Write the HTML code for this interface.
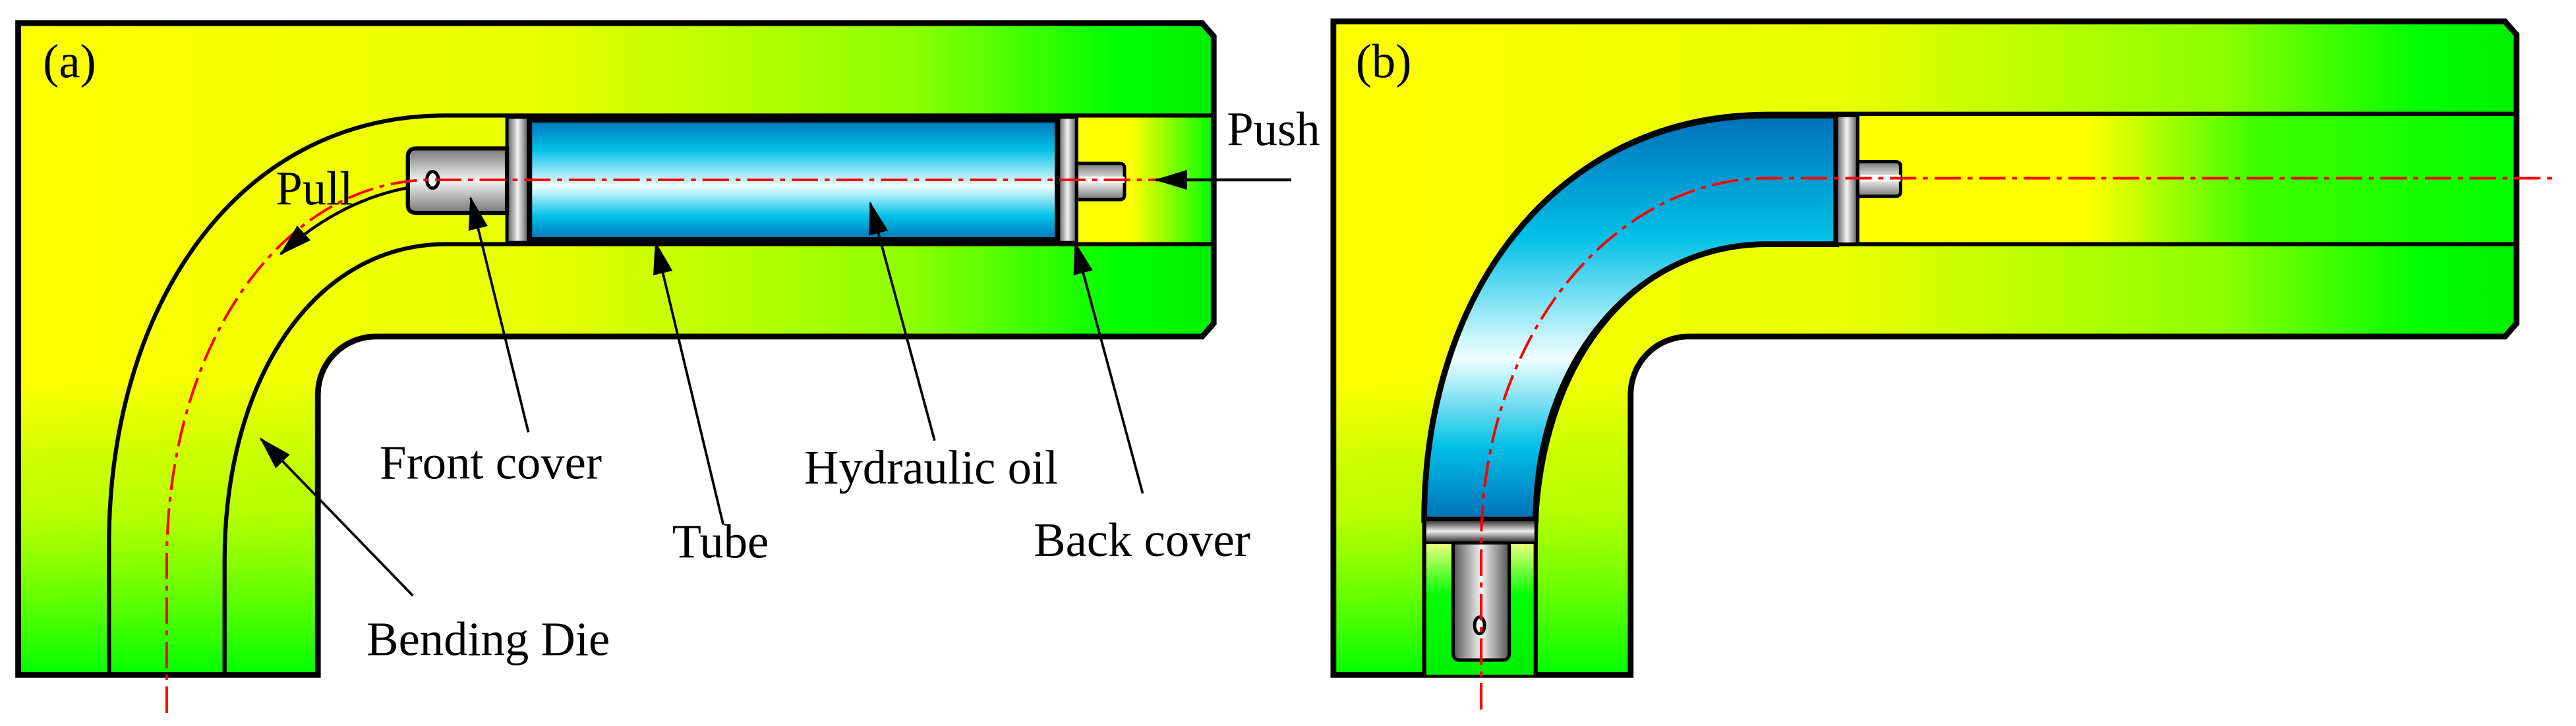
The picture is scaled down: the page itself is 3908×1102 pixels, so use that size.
<!DOCTYPE html>
<html><head><meta charset="utf-8"><style>
html,body{margin:0;padding:0;background:#fff;}
svg{display:block;}
text{font-family:"Liberation Serif",serif;fill:#000;}
</style></head><body>
<svg width="3908" height="1102" viewBox="0 0 1560 440" preserveAspectRatio="none" xmlns="http://www.w3.org/2000/svg">
<defs>
<linearGradient id="hA" x1="0" y1="0" x2="1" y2="0">
<stop offset="0" stop-color="#ffff00"/><stop offset="0.45" stop-color="#e6ff00"/><stop offset="0.75" stop-color="#8cff00"/><stop offset="0.92" stop-color="#00ff00"/><stop offset="1" stop-color="#00f000"/>
</linearGradient>
<linearGradient id="vLeg" x1="0" y1="0" x2="0" y2="1">
<stop offset="0" stop-color="#00ff00" stop-opacity="0"/><stop offset="0.45" stop-color="#40ff00" stop-opacity="0.35"/><stop offset="1" stop-color="#00ff00" stop-opacity="1"/>
</linearGradient>
<linearGradient id="chA" x1="0" y1="0" x2="1" y2="0">
<stop offset="0" stop-color="#ffff00"/><stop offset="0.4" stop-color="#ffff00"/><stop offset="1" stop-color="#00ff00"/>
</linearGradient>
<linearGradient id="chB" x1="0" y1="0" x2="1" y2="0">
<stop offset="0" stop-color="#ffff00"/><stop offset="0.35" stop-color="#ffff00"/><stop offset="0.6" stop-color="#40ff00"/><stop offset="1" stop-color="#00ff00"/>
</linearGradient>
<linearGradient id="blue" x1="0" y1="0" x2="0" y2="1">
<stop offset="0" stop-color="#0070b8"/><stop offset="0.25" stop-color="#00c0e6"/><stop offset="0.55" stop-color="#f0ffff"/><stop offset="0.8" stop-color="#00c0e6"/><stop offset="1" stop-color="#0070b8"/>
</linearGradient>
<linearGradient id="blueB" x1="0" y1="70" x2="0" y2="315" gradientUnits="userSpaceOnUse">
<stop offset="0" stop-color="#0070b8"/><stop offset="0.3" stop-color="#00c0e6"/><stop offset="0.6" stop-color="#f0ffff"/><stop offset="0.82" stop-color="#00c0e6"/><stop offset="1" stop-color="#0070b8"/>
</linearGradient>
<linearGradient id="grayV" x1="0" y1="0" x2="0" y2="1">
<stop offset="0" stop-color="#777"/><stop offset="0.5" stop-color="#f4f4f4"/><stop offset="1" stop-color="#777"/>
</linearGradient>
<linearGradient id="grayH" x1="0" y1="0" x2="1" y2="0">
<stop offset="0" stop-color="#555"/><stop offset="0.5" stop-color="#f4f4f4"/><stop offset="1" stop-color="#555"/>
</linearGradient>
<linearGradient id="grayF" x1="0" y1="0" x2="0" y2="1">
<stop offset="0" stop-color="#222"/><stop offset="0.5" stop-color="#eee"/><stop offset="1" stop-color="#222"/>
</linearGradient>
<linearGradient id="botB" x1="0" y1="0" x2="0" y2="1">
<stop offset="0" stop-color="#eeff80"/><stop offset="0.4" stop-color="#00ff00"/><stop offset="1" stop-color="#00ee00"/>
</linearGradient>
<marker id="ah" markerWidth="20" markerHeight="12" refX="19" refY="6" orient="auto" markerUnits="userSpaceOnUse">
<path d="M0,0 L20,6 L0,12 Z" fill="#000"/>
</marker>
</defs>

<!-- ============ Panel (a) ============ -->
<path d="M11,14 L728,14 L735,22 L735,196 L728,204 L227,204 A35,35 0 0 0 192.5,239 L192.5,409 L11,409 Z" fill="url(#hA)"/>
<rect x="11" y="230" width="182" height="179" fill="url(#vLeg)"/>
<rect x="652" y="71" width="83" height="76" fill="url(#chA)"/>
<path d="M11,14 L728,14 L735,22 L735,196 L728,204 L227,204 A35,35 0 0 0 192.5,239 L192.5,409 L11,409 Z" fill="none" stroke="#000" stroke-width="3.5"/>
<path d="M735,70 L270,70 C140,70 66,190 66,330 L66,409" fill="none" stroke="#000" stroke-width="2.5"/>
<path d="M735,148 L270,148 C190,148 136,230 136,340 L136,409" fill="none" stroke="#000" stroke-width="2.5"/>
<rect x="320" y="72" width="321" height="74" fill="url(#blue)" stroke="#000" stroke-width="4.5"/>
<rect x="307" y="71" width="13" height="76" fill="url(#grayH)" stroke="#000" stroke-width="2"/>
<path d="M307,90 L252,90 Q247,90 247,95 L247,124 Q247,129 252,129 L307,129 Z" fill="url(#grayV)" stroke="#000" stroke-width="2.5"/>
<ellipse cx="262" cy="109" rx="3.5" ry="5" fill="#fff" stroke="#000" stroke-width="2"/>
<rect x="641" y="71" width="11" height="76" fill="url(#grayH)" stroke="#000" stroke-width="2"/>
<path d="M652,99 L678,99 Q681,99 681,102 L681,118 Q681,121 678,121 L652,121 Z" fill="url(#grayV)" stroke="#000" stroke-width="2"/>
<rect x="654" y="107" width="27" height="4" fill="#fff"/>
<path d="M101,432 L101,340 C101,210 170,109 262,109 L700,109" fill="none" stroke="#ff0000" stroke-width="1.6" stroke-dasharray="16 4 3 4"/>
<line x1="782" y1="109" x2="700" y2="109" stroke="#000" stroke-width="1.8" marker-end="url(#ah)"/>
<text x="743" y="88" font-size="29">Push</text>
<path d="M246,114 Q205,122 170,154" fill="none" stroke="#000" stroke-width="1.8" marker-end="url(#ah)"/>
<text x="167" y="124" font-size="29">Pull</text>
<text x="26" y="47" font-size="29">(a)</text>
<line x1="320" y1="262" x2="285" y2="120" stroke="#000" stroke-width="1.5" marker-end="url(#ah)"/>
<line x1="438" y1="318" x2="397" y2="147" stroke="#000" stroke-width="1.5" marker-end="url(#ah)"/>
<line x1="566" y1="267" x2="527" y2="123" stroke="#000" stroke-width="1.5" marker-end="url(#ah)"/>
<line x1="692" y1="299" x2="651" y2="147" stroke="#000" stroke-width="1.5" marker-end="url(#ah)"/>
<line x1="250" y1="361" x2="158" y2="266" stroke="#000" stroke-width="1.5" marker-end="url(#ah)"/>
<text x="230" y="290" font-size="29">Front cover</text>
<text x="407" y="338" font-size="29">Tube</text>
<text x="487" y="293" font-size="29">Hydraulic oil</text>
<text x="626" y="337" font-size="29">Back cover</text>
<text x="222" y="397" font-size="29">Bending Die</text>

<!-- ============ Panel (b) ============ -->
<path d="M807.5,13 L1517,13 L1524,21 L1524,196 L1517,204 L1022,204 A35,35 0 0 0 987.5,239 L987.5,409 L807.5,409 Z" fill="url(#hA)"/>
<rect x="807.5" y="230" width="180" height="179" fill="url(#vLeg)"/>
<rect x="1125" y="70" width="399" height="77" fill="url(#chB)"/>
<path d="M807.5,13 L1517,13 L1524,21 L1524,196 L1517,204 L1022,204 A35,35 0 0 0 987.5,239 L987.5,409 L807.5,409 Z" fill="none" stroke="#000" stroke-width="3.5"/>
<rect x="863" y="329" width="67" height="80" fill="url(#botB)"/>
<path d="M1112,70 L1070,70 C940,70 862.5,180 862.5,315 L930,315 C930,220 990,148 1070,148 L1112,148 Z" fill="url(#blueB)" stroke="#000" stroke-width="3.5"/>
<path d="M1524,69 L1070,69 C940,69 862.5,180 862.5,320 L862.5,409" fill="none" stroke="#000" stroke-width="2.5"/>
<path d="M1524,148 L1070,148 C990,148 930,220 930,330 L930,409" fill="none" stroke="#000" stroke-width="2.5"/>
<rect x="1112" y="70" width="13" height="78" fill="url(#grayH)" stroke="#000" stroke-width="2"/>
<path d="M1125,98 L1148,98 Q1151,98 1151,101 L1151,116 Q1151,119 1148,119 L1125,119 Z" fill="url(#grayV)" stroke="#000" stroke-width="2"/>
<rect x="1127" y="106" width="24" height="4" fill="#fff"/>
<rect x="863" y="315" width="67" height="14" fill="url(#grayF)" stroke="#000" stroke-width="1.5"/>
<path d="M880,329 L914,329 L914,396 Q914,400 910,400 L884,400 Q880,400 880,396 Z" fill="url(#grayH)" stroke="#000" stroke-width="2"/>
<ellipse cx="896" cy="379" rx="3" ry="5" fill="#fff" stroke="#000" stroke-width="2"/>
<path d="M897,430 L897,330 C897,200 980,108 1070,108 L1548,108" fill="none" stroke="#ff0000" stroke-width="1.6" stroke-dasharray="16 4 3 4"/>
<text x="821" y="47" font-size="29">(b)</text>
</svg>
</body></html>
